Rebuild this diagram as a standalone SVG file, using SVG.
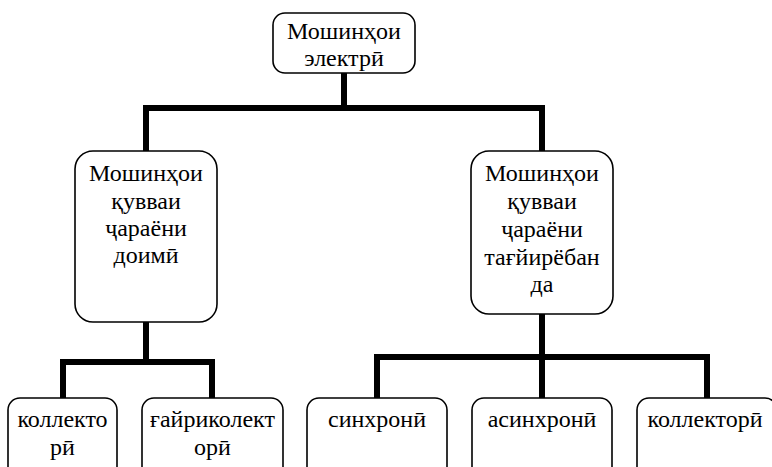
<svg xmlns="http://www.w3.org/2000/svg" width="772" height="467" viewBox="0 0 772 467">
<style>
.box{fill:#fff;stroke:#000;stroke-width:1.6}
.t{font-family:"Liberation Serif","Times New Roman",serif;font-size:24px;fill:#000;text-anchor:middle}
.c{fill:none;stroke:#000;stroke-width:6;stroke-linejoin:miter;stroke-linecap:square}
</style>
<rect width="772" height="467" fill="#fff"/>
<g id="connectors">
<path class="c" d="M344 73V108M146 108H542M146 108V151M542 108V151"/>
<path class="c" d="M146 322V362M63 362H212M63 362V398M212 362V398"/>
<path class="c" d="M542 314V357M377 357H707M377 357V398M542 357V398M707 357V398"/>
</g>
<g id="n-root">
<rect class="box" x="273" y="13" width="142" height="60" rx="12"/>
<text class="t" x="344" y="39">Мошинҳои</text>
<text class="t" x="344" y="66">электрӣ</text>
</g>
<g id="n-dc">
<rect class="box" x="75" y="151" width="142" height="171" rx="18"/>
<text class="t" x="146" y="181">Мошинҳои</text>
<text class="t" x="146" y="209">қувваи</text>
<text class="t" x="146" y="236">ҷараёни</text>
<text class="t" x="146" y="263">доимӣ</text>
</g>
<g id="n-ac">
<rect class="box" x="471" y="151" width="142" height="163" rx="18"/>
<text class="t" x="542" y="181">Мошинҳои</text>
<text class="t" x="542" y="209">қувваи</text>
<text class="t" x="542" y="237">ҷараёни</text>
<text class="t" x="542" y="265">тағйирёбан</text>
<text class="t" x="542" y="292">да</text>
</g>
<g id="n-coll1">
<rect class="box" x="8" y="398" width="109" height="90" rx="12"/>
<text class="t" x="62.5" y="427">коллекто</text>
<text class="t" x="62.5" y="455">рӣ</text>
</g>
<g id="n-noncoll">
<rect class="box" x="142" y="398" width="141" height="90" rx="12"/>
<text class="t" x="212.5" y="427">ғайриколект</text>
<text class="t" x="212.5" y="455">орӣ</text>
</g>
<g id="n-sync">
<rect class="box" x="307" y="398" width="140" height="90" rx="12"/>
<text class="t" x="377" y="427">синхронӣ</text>
</g>
<g id="n-async">
<rect class="box" x="472" y="398" width="140" height="90" rx="12"/>
<text class="t" x="542" y="427">асинхронӣ</text>
</g>
<g id="n-coll2">
<rect class="box" x="637" y="398" width="140" height="90" rx="12"/>
<text class="t" x="705" y="427">коллекторӣ</text>
</g>
</svg>
